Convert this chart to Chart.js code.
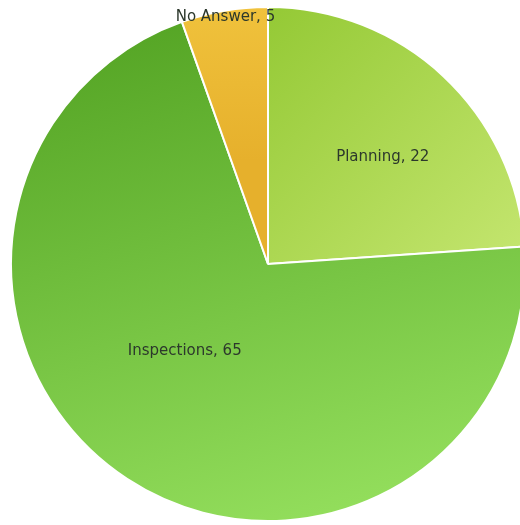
<!DOCTYPE html>
<html>
<head>
<meta charset="utf-8">
<script src="https://cdn.jsdelivr.net/npm/chart.js@4.4.1/dist/chart.umd.min.js"></script>
<style>
  html, body { margin: 0; padding: 0; background: #fff; overflow: hidden; width: 520px; height: 525px; }
  #wrap { position: absolute; left: 10px; top: 6px; }
</style>
</head>
<body>
<div id="wrap"><canvas id="pie" width="516" height="516"></canvas></div>
<script>
const categories = ['Planning', 'Inspections', 'No Answer'];
const counts = [22, 65, 5];
// where each label sits: fraction of the radius, and a small turn off the slice's middle (radians)
const labelRadius = [0.61, 0.47, 0.975];
const labelTurn = [0.07, 0.18, 0];

// gradient stops per slice: [x0,y0,x1,y1] as fractions of the pie box, then colours
const sliceFills = [
  { dir: [0.5, 0, 1, 0.5], stops: ['#94c935', '#c5e670'] },
  { dir: [0.3, 0, 0.6, 1], stops: ['#54a424', '#93de5c'] },
  { dir: [0.5, 0, 0.5, 0.3], stops: ['#f0c23c', '#e6b02c'] }
];

function sliceGradient(ctx) {
  const chart = ctx.chart;
  const area = chart.chartArea;
  if (!area) return '#8c8';
  const f = sliceFills[ctx.dataIndex];
  const w = area.right - area.left, h = area.bottom - area.top;
  const g = chart.ctx.createLinearGradient(
    area.left + f.dir[0] * w, area.top + f.dir[1] * h,
    area.left + f.dir[2] * w, area.top + f.dir[3] * h);
  g.addColorStop(0, f.stops[0]);
  g.addColorStop(1, f.stops[1]);
  return g;
}

const sliceLabels = {
  id: 'sliceLabels',
  afterDatasetsDraw(chart) {
    const c = chart.ctx;
    const meta = chart.getDatasetMeta(0);
    c.save();
    c.font = '15px "DejaVu Sans", sans-serif';
    c.fillStyle = '#2c382c';
    c.textAlign = 'center';
    c.textBaseline = 'middle';
    meta.data.forEach((arc, i) => {
      const p = arc.getProps(['x', 'y', 'startAngle', 'endAngle', 'outerRadius'], true);
      const mid = (p.startAngle + p.endAngle) / 2 + labelTurn[i];
      const r = p.outerRadius * labelRadius[i];
      c.fillText(categories[i] + ', ' + counts[i], p.x + Math.cos(mid) * r, p.y + Math.sin(mid) * r);
    });
    c.restore();
  }
};

new Chart(document.getElementById('pie'), {
  type: 'pie',
  data: {
    labels: categories,
    datasets: [{
      data: counts,
      backgroundColor: sliceGradient,
      borderColor: '#ffffff',
      borderWidth: 2
    }]
  },
  options: {
    responsive: false,
    animation: false,
    layout: { padding: 0 },
    plugins: {
      legend: { display: false },
      tooltip: { enabled: false }
    }
  },
  plugins: [sliceLabels]
});
</script>
</body>
</html>
